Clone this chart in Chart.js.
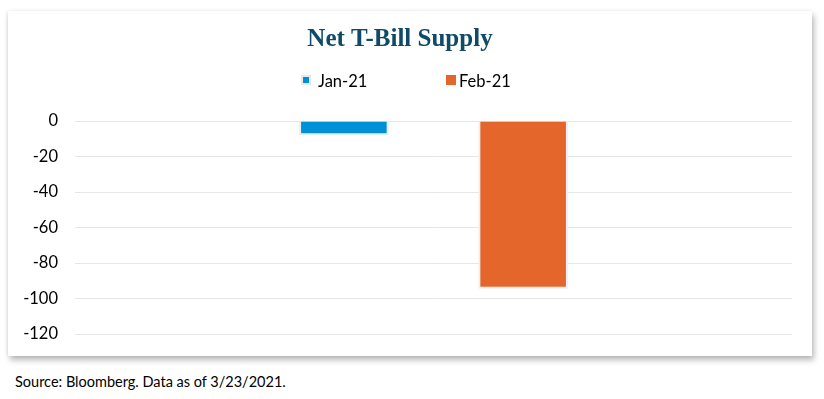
<!DOCTYPE html>
<html>
<head>
<meta charset="utf-8">
<script src="https://cdn.jsdelivr.net/npm/chart.js@4"></script>
<style>
  html, body { margin: 0; padding: 0; background: #ffffff; width: 824px; height: 399px; overflow: hidden; }
  #card { position: absolute; left: 8px; top: 11px; width: 804px; height: 345px; background: #fff;
          box-shadow: 2px 4px 6px rgba(0,0,0,0.28), -1px 0 3px rgba(0,0,0,0.08); }
  #c { position: absolute; left: 0; top: 0; }
  #source { position: absolute; left: 15px; top: 373px; font-family: Lato, "Open Sans", sans-serif; font-size: 14.5px; color: #000; }
  .lg { position: absolute; top: 71px; height: 20px; line-height: 20px; font-family: Lato, "Open Sans", sans-serif; font-size: 16.5px; color: #000; white-space: nowrap; }
  .lg .box { position: absolute; top: 4px; width: 10px; height: 10px; box-sizing: border-box; }
  .lg .txt { position: absolute; left: 17px; top: 0; }
</style>
</head>
<body>
<div id="card"><canvas id="c" width="804" height="350"></canvas></div>
<div id="legend"></div>
<div id="source">Source: Bloomberg. Data as of 3/23/2021.</div>
<script>
const categories = [""];
const seriesNames = ["Jan-21", "Feb-21"];
const jan21 = [-8];
const feb21 = [-94.5];
const yTicks = [0, -20, -40, -60, -80, -100, -120];
const seriesColors = ['#0090d6', '#e5662a'];

const chart = new Chart(document.getElementById('c'), {
  type: 'bar',
  data: {
    labels: categories,
    datasets: [
      { label: seriesNames[0], data: jan21, backgroundColor: seriesColors[0], borderColor: '#e9eef3', borderWidth: 2, borderSkipped: 'start' },
      { label: seriesNames[1], data: feb21, backgroundColor: seriesColors[1], borderColor: '#eceff5', borderWidth: 2, borderSkipped: 'start' }
    ]
  },
  options: {
    responsive: false,
    animation: false,
    categoryPercentage: 0.5,
    barPercentage: 0.5,
    layout: { padding: { left: 0, right: 20, top: 0, bottom: 3 } },
    plugins: {
      title: {
        display: true,
        text: 'Net T-Bill Supply',
        color: '#0f4a69',
        font: { family: '"Liberation Serif", serif', size: 25, weight: 'bold' },
        padding: { top: 14, bottom: 66 }
      },
      legend: { display: false },
      tooltip: { enabled: false }
    },
    scales: {
      x: { display: false, grid: { display: false } },
      y: {
        min: -120, max: 0,
        afterBuildTicks: (scale) => { scale.ticks = yTicks.map(v => ({ value: v })); },
        afterFit: (scale) => { scale.width = 67; },
        border: { display: false },
        grid: { color: '#e6e6e6', drawTicks: false, lineWidth: 1 },
        ticks: {
          color: '#000',
          padding: 17,
          font: { family: 'Lato, "Open Sans", sans-serif', size: 16.5 }
        }
      }
    }
  }
});

// Legend built from the chart's own datasets
const legendX = [301, 446];
const legendEl = document.getElementById('legend');
chart.data.datasets.forEach((ds, i) => {
  const item = document.createElement('div');
  item.className = 'lg';
  item.style.left = legendX[i] + 'px';
  const box = document.createElement('span');
  box.className = 'box';
  box.style.background = ds.backgroundColor;
  if (i === 0) box.style.border = '2px solid #e4eaf0';
  const txt = document.createElement('span');
  txt.className = 'txt';
  txt.textContent = ds.label;
  if (i === 1) txt.style.left = '13px';
  item.appendChild(box);
  item.appendChild(txt);
  legendEl.appendChild(item);
});
</script>
</body>
</html>
